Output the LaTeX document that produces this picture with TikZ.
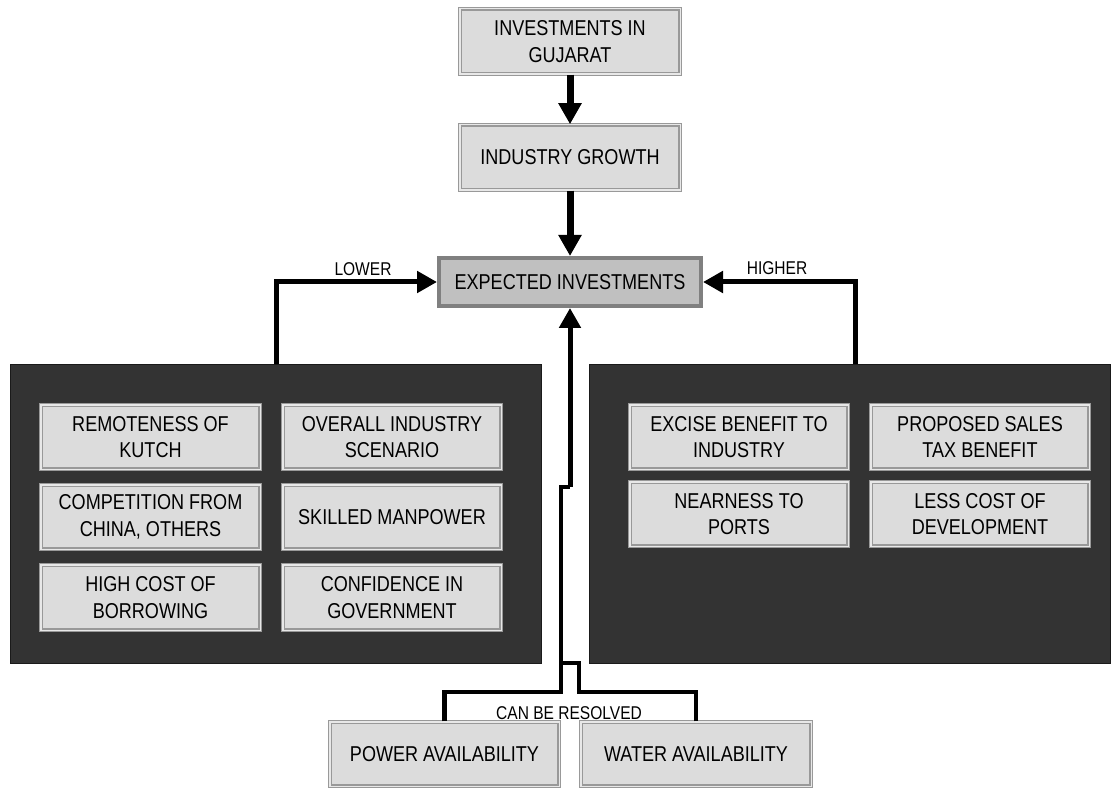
\documentclass[tikz,border=0pt]{standalone}
\usepackage{fontspec}
\setmainfont{Liberation Sans}[FakeStretch=0.84]
\usetikzlibrary{arrows.meta,calc}

\definecolor{panel}{HTML}{333333}
\definecolor{panelline}{HTML}{1A1A1A}
\definecolor{boxfill}{HTML}{DCDCDC}
\definecolor{boxline}{HTML}{999999}
\definecolor{boxgap}{HTML}{E8E8E8}
\definecolor{keyfill}{HTML}{C0C0C0}
\definecolor{keyline}{HTML}{808080}

\tikzset{
  boxtext/.style={font=\fontsize{21.5}{26.7}\selectfont, align=center, text=black},
  factor/.style 2 args={boxtext, draw=boxline, line width=1.1pt, double=boxgap,
    double distance=1.4pt, fill=boxfill, inner sep=0pt,
    minimum width={#1pt-3.6pt}, minimum height={#2pt-3.6pt}},
  keybox/.style 2 args={boxtext, draw=keyline, line width=4pt, fill=keyfill, inner sep=0pt,
    minimum width={#1pt-4pt}, minimum height={#2pt-4pt}},
  panelbox/.style 2 args={draw=panelline, line width=1.2pt, fill=panel, inner sep=0pt,
    minimum width={#1pt-1.2pt}, minimum height={#2pt-1.2pt}},
  label/.style={font=\fontsize{18.5}{20}\selectfont, text=black, inner sep=0pt},
  flow/.style={line width=7pt, line join=miter, -{Triangle[width=22pt,length=21pt]}},
  link/.style={line width=5pt, line join=miter, -{Triangle[width=21pt,length=20pt]}},
  feed/.style={line width=4.5pt, line join=miter},
}

\begin{document}
\begin{tikzpicture}[x=1pt,y=-1pt]
  \useasboundingbox[fill=white] (0,0) rectangle (1113,791);

  % main chain
  \node[factor={224}{69}] (inv) at (570,41.5) {INVESTMENTS IN\\GUJARAT};
  \node[factor={224}{69}] (grow) at (570,157.5) {INDUSTRY GROWTH};
  \node[keybox={266}{52}] (exp) at (570,282) {EXPECTED INVESTMENTS};

  % panels of factors
  \node[panelbox={532}{300}] (lpanel) at (276,514) {};
  \node[panelbox={522}{300}] (rpanel) at (850,514) {};

  % factors lowering investments
  \node[factor={223}{68}] (l1) at (150.5,437) {REMOTENESS OF\\KUTCH};
  \node[factor={222}{68}] (l2) at (392,437) {OVERALL INDUSTRY\\SCENARIO};
  \node[factor={223}{68}] (l3) at (150.5,517) {COMPETITION FROM\\CHINA, OTHERS};
  \node[factor={222}{68}] (l4) at (392,517) {SKILLED MANPOWER};
  \node[factor={223}{69}] (l5) at (150.5,597.5) {HIGH COST OF\\BORROWING};
  \node[factor={222}{69}] (l6) at (392,597.5) {CONFIDENCE IN\\GOVERNMENT};

  % factors raising investments
  \node[factor={222}{68}] (r1) at (739,437) {EXCISE BENEFIT TO\\INDUSTRY};
  \node[factor={222}{68}] (r2) at (980,437) {PROPOSED SALES\\TAX BENEFIT};
  \node[factor={222}{68}] (r3) at (739,514) {NEARNESS TO\\PORTS};
  \node[factor={222}{68}] (r4) at (980,514) {LESS COST OF\\DEVELOPMENT};

  % resolvable issues
  \node[factor={233}{68}] (pow) at (444.5,754) {POWER AVAILABILITY};
  \node[factor={234}{68}] (wat) at (696,754) {WATER AVAILABILITY};

  % connectors
  \draw[flow] (inv.south) -- (grow.north);
  \draw[flow] (grow.south) -- (exp.north);

  \draw[link] (lpanel.north) |- (exp.west);
  \draw[link] ([xshift=5pt]rpanel.north) |- (exp.east);
  \node[label] (lower) at (363,269) {LOWER};
  \node[label] (higher) at (777,268) {HIGHER};

  \coordinate (pb) at (561,692);
  \coordinate (jog) at (561,487);
  \coordinate (merge) at (561,663);
  \draw[feed] (pow.north) |- (pb) -- (jog) -- (jog -| exp.south);
  \draw[link] (jog -| exp.south) -- (exp.south);
  \draw[feed] (wat.north) -- (wat.north |- pb) -- ([xshift=18pt]pb) |- (merge);
  \node[label] (resolved) at (569,713) {CAN BE RESOLVED};
\end{tikzpicture}
\end{document}
